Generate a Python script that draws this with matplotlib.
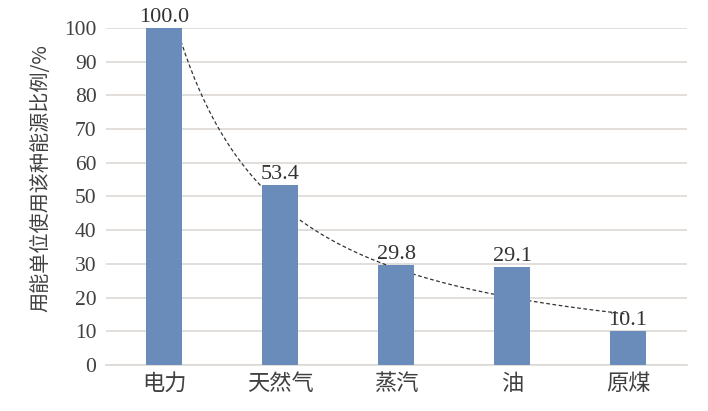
import numpy as np
import matplotlib
matplotlib.use("Agg")
import matplotlib.pyplot as plt

plt.rcParams['font.family'] = ['Liberation Serif', 'Noto Sans CJK SC', 'DejaVu Sans']

categories = ["电力", "天然气", "蒸汽", "油", "原煤"]
values = [100.0, 53.4, 29.8, 29.1, 10.1]
yticks = [0, 10, 20, 30, 40, 50, 60, 70, 80, 90, 100]
ylabel = "用能单位使用该种能源比例/%"

bar_color = "#6a8cbb"
grid_color = "#dcd8d6"
text_color = "#404040"

fig = plt.figure(figsize=(7.08, 4.11), dpi=100)
ax = fig.add_axes([0.15, 0.112, 0.8206, 0.82])

x = np.arange(1, len(categories) + 1)

# 幂函数趋势线 (y = a * x^b)
b, ln_a = np.polyfit(np.log(x), np.log(values), 1)
xs = np.linspace(1, len(categories), 200)
ax.plot(xs, np.exp(ln_a) * xs ** b, linestyle=(0, (3, 2)), color="#333333",
        linewidth=0.9, zorder=2)

bars = ax.bar(x, values, width=0.31, color=bar_color, zorder=3)
for xi, v in zip(x, values):
    ax.text(xi, v + 0.3, f"{v:.1f}", ha="center", va="bottom",
            fontsize=16, color="#333333", zorder=4)

ax.set_ylim(0, 100)
ax.set_xlim(0.5, len(categories) + 0.51)
ax.set_yticks(yticks)
ax.set_xticks(x)
ax.set_xticklabels(categories, fontsize=16, color=text_color,
                   family=['Noto Sans CJK SC'])
ax.tick_params(axis='y', labelsize=15.5, colors=text_color, length=0, pad=7)
ax.tick_params(axis='x', length=0, pad=5)
ax.yaxis.grid(True, color=grid_color, linewidth=1.2, zorder=0)
ax.set_axisbelow(True)
for s in ["top", "right", "left"]:
    ax.spines[s].set_visible(False)
ax.spines["bottom"].set_color(grid_color)
ax.spines["bottom"].set_linewidth(1.2)
ax.set_ylabel(ylabel, fontsize=14.5, color=text_color,
              family=['Noto Sans CJK SC', 'DejaVu Sans'])
ax.yaxis.set_label_coords(-0.095, 0.555)

fig.savefig("out.png", dpi=100)
